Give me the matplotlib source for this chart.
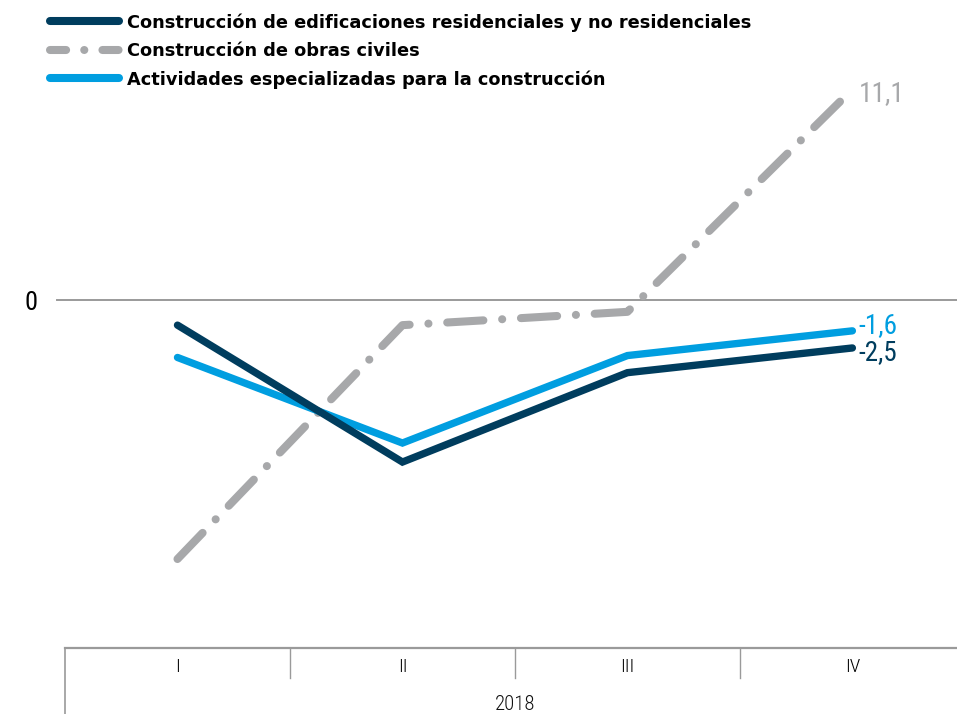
import matplotlib
matplotlib.use("Agg")
import matplotlib.pyplot as plt
from matplotlib.lines import Line2D
import matplotlib.transforms as mtransforms

categories = ["I", "II", "III", "IV"]
year_label = "2018"
series_names = [
    "Construcción de edificaciones residenciales y no residenciales",
    "Construcción de obras civiles",
    "Actividades especializadas para la construcción",
]
edificaciones = [-1.3, -8.5, -3.8, -2.5]
obras_civiles = [-13.6, -1.3, -0.6, 11.1]
especializadas = [-3.0, -7.5, -2.9, -1.6]
end_labels = ["-2,5", "11,1", "-1,6"]

NAVY = "#003d5e"
GRAY = "#a7a8aa"
BLUE = "#009ee0"
AXG = "#9a9a9a"

narrow = ["Roboto Condensed", "Liberation Sans Narrow", "DejaVu Sans"]
NS = "condensed"

W, H = 957, 714
fig = plt.figure(figsize=(W / 100, H / 100), dpi=100)
ax = fig.add_axes([65 / W, (H - 648) / H, 1 - 65 / W, 648 / H])

x = list(range(len(categories)))
ax.plot(x, especializadas, color=BLUE, lw=5.3, solid_capstyle="round", solid_joinstyle="miter", zorder=3)
ax.plot(x, edificaciones, color=NAVY, lw=5.3, solid_capstyle="round", solid_joinstyle="miter", zorder=4)
ax.plot(x, obras_civiles, color=GRAY, lw=5.8, dashes=(4.5, 2.33, 0.01, 2.33),
        dash_capstyle="round", zorder=2)

ax.set_xlim(-0.5, 3.465)
ax.set_ylim(-18.28, 15.8)

# zero line
ax.plot([-0.535, 3.465], [0, 0], color=AXG, lw=1.4, clip_on=False, zorder=1)

for s in ["top", "right", "left"]:
    ax.spines[s].set_visible(False)
ax.spines["bottom"].set_color(AXG)
ax.spines["bottom"].set_linewidth(1.6)

ax.set_yticks([0])
ax.set_yticklabels(["0"], fontsize=19, family=narrow, stretch=NS)
ax.tick_params(axis="y", length=0, pad=20)
ax.set_xticks(x)
ax.set_xticklabels(categories, fontsize=14, family=narrow, stretch=NS, weight="light")
ax.tick_params(axis="x", length=0, pad=7)

# category separators
trans = mtransforms.blended_transform_factory(ax.transData, ax.transAxes)
px = 1 / 648
for b in [0.5, 1.5, 2.5]:
    ax.plot([b, b], [0, -30 * px], color=AXG, lw=1.0, transform=trans, clip_on=False)
ax.plot([-0.5, -0.5], [0, -66 * px], color=AXG, lw=1.2, transform=trans, clip_on=False)
ax.text(1.5, -57 * px, year_label, transform=trans, ha="center", va="center",
        fontsize=15, family=narrow, stretch=NS, weight="light", color="#111111")

# end labels
lab_kw = dict(textcoords="offset pixels", ha="left", va="center", fontsize=19.5,
              family=narrow, stretch=NS)
ax.annotate(end_labels[1], (3, obras_civiles[3]), xytext=(6, -4), color=GRAY, **lab_kw)
ax.annotate(end_labels[2], (3, especializadas[3]), xytext=(6, 5), color=BLUE, **lab_kw)
ax.annotate(end_labels[0], (3, edificaciones[3]), xytext=(6, -5), color=NAVY, **lab_kw)

handles = [
    Line2D([], [], color=NAVY, lw=5.8, solid_capstyle="round"),
    Line2D([], [], color=GRAY, lw=5.8, dashes=(2, 2.25, 0.01, 2.25), dash_capstyle="round"),
    Line2D([], [], color=BLUE, lw=5.8, solid_capstyle="round"),
]
leg = fig.legend(handles, series_names, loc="upper left",
                 bbox_to_anchor=(50 / W, 1 - 13 / H), frameon=False,
                 prop={"family": "DejaVu Sans", "weight": "bold", "size": 12.8},
                 handlelength=3.9, handletextpad=0.42, labelspacing=0.58, borderpad=0,
                 borderaxespad=0)

fig.savefig("out.png", dpi=100)
